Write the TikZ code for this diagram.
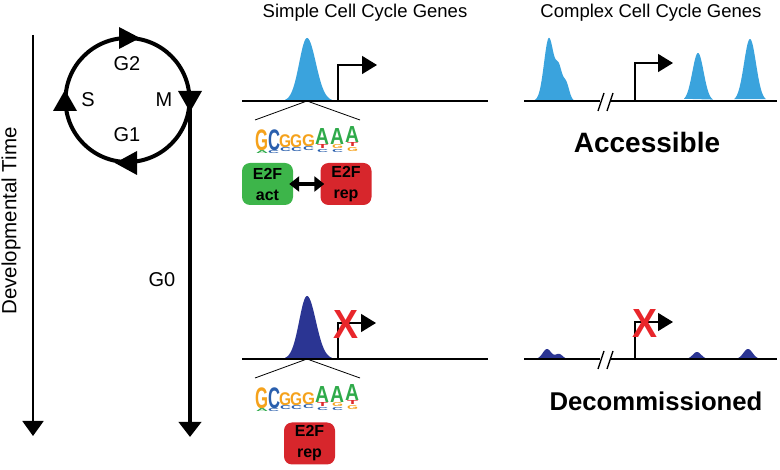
\documentclass[tikz,border=0pt]{standalone}
\usepackage{fontspec}
\setmainfont{Liberation Sans}
\usepackage{graphicx}
\usepackage{xcolor}
\usetikzlibrary{arrows.meta}

\definecolor{peakblue}{HTML}{3AA3DD}
\definecolor{peaknavy}{HTML}{2B3593}
\definecolor{actgreen}{HTML}{3DB54A}
\definecolor{repred}{HTML}{D7262C}
\definecolor{xred}{HTML}{E8262B}
\definecolor{logoG}{HTML}{F5A21C}
\definecolor{logoC}{HTML}{2A5FAD}
\definecolor{logoA}{HTML}{2FAA4A}
\definecolor{logoT}{HTML}{DF2A2C}

% one stretched letter of the motif logo: name, x, bottom, width, height, colour, letter
\newcommand{\logoletter}[7]{\node [anchor=south west, inner sep=0, text=#6] (#1) at (#2,#3) {\resizebox*{#4pt}{#5pt}{\bfseries #7}};}

% the E2F motif logo, moved down by #2
\newcommand{\motiflogo}[2]{%
\begin{scope}[shift={(0,#2)}]
	\logoletter{#1g1}{255}{151}{13}{21}{logoG}{G}
	\logoletter{#1c1}{268}{151}{12}{21}{logoC}{C}
	\logoletter{#1g2}{279}{148}{12}{13}{logoG}{G}
	\logoletter{#1g3}{290}{148}{12}{13}{logoG}{G}
	\logoletter{#1g4}{302}{147}{13}{12}{logoG}{G}
	\logoletter{#1a1}{315}{145}{14}{16}{logoA}{A}
	\logoletter{#1a2}{330}{145}{14}{16}{logoA}{A}
	\logoletter{#1a3}{345}{143}{14}{16}{logoA}{A}
	\logoletter{#1s1}{280}{152}{11}{4}{logoC}{C}
	\logoletter{#1s2}{291}{152}{11}{4}{logoC}{C}
	\logoletter{#1s3}{303}{151}{11}{4}{logoC}{C}
	\logoletter{#1s4}{317}{149}{11}{4}{logoT}{T}
	\logoletter{#1s5}{317}{153}{11}{3}{logoC}{C}
	\logoletter{#1s6}{332}{149}{11}{4}{logoG}{G}
	\logoletter{#1s7}{332}{153}{11}{3}{logoC}{C}
	\logoletter{#1s8}{347}{147}{11}{4}{logoT}{T}
	\logoletter{#1s9}{347}{152}{11}{4}{logoG}{G}
	\logoletter{#1s10}{256}{154}{12}{3}{logoA}{A}
	\logoletter{#1s11}{268}{154}{11}{3}{logoC}{C}
\end{scope}}

\begin{document}
\begin{tikzpicture}[x=1pt, y=-1pt,
	title/.style={inner sep=0, font=\fontsize{18.5}{22}\selectfont},
	phase/.style={inner sep=0, font=\fontsize{20}{24}\selectfont},
	dnaline/.style={line width=1.8pt},
	breakmark/.style={line width=1.4pt},
	promoter/.style={line width=1.5pt, -{Triangle[length=15pt,width=18pt]}},
	motifline/.style={line width=0.8pt},
	e2fbox/.style={rounded corners=8pt, minimum width=51pt, minimum height=42pt, inner sep=0, align=center, font=\fontsize{16}{21}\selectfont\bfseries},
	bothways/.style={line width=3.5pt, shorten <=-4pt, shorten >=-4pt, {Triangle[length=10pt,width=15pt]}-{Triangle[length=10pt,width=15pt]}},
	nomark/.style={inner sep=0, text=xred}]
	\useasboundingbox (0,0) rectangle (780,470);

	% time axis
	\coordinate (timetop) at (33,35);
	\coordinate (timeend) at (33,436);
	\draw [line width=2pt, -{Triangle[length=15pt,width=21pt]}] (timetop) -- (timeend);
	\node [inner sep=0, rotate=90, font=\fontsize{20.5}{24}\selectfont] (devtime) at (11,221) {Developmental Time};

	% cell cycle
	\coordinate (cyc) at (127.5,100);
	\draw [line width=4pt] (cyc) circle (62);
	\fill (119,27) -- (140,38) -- (119,49) -- cycle;
	\fill (178,91) -- (202,91) -- (190,112) -- cycle;
	\fill (137,151) -- (137,175) -- (115,163) -- cycle;
	\fill (53,111) -- (77,111) -- (65,90) -- cycle;
	\node [phase] (g2) at (127,64) {G2};
	\node [phase] (s) at (88,100) {S};
	\node [phase] (m) at (164,100) {M};
	\node [phase] (g1) at (127,135) {G1};
	\coordinate (mexit) at (190,100);
	\coordinate (g0end) at (190,437);
	\draw [line width=4pt, -{Triangle[length=15pt,width=22pt]}] (mexit) -- (g0end);
	\node [phase] (g0) at (162,280) {G0};

	% headings
	\node [title] (simpletitle) at (365,13) {Simple Cell Cycle Genes};
	\node [title] (complextitle) at (651,13) {Complex Cell Cycle Genes};

	% simple gene, accessible
	\fill [peakblue] plot [domain=285:332, samples=80] (\x, {101-63*exp(-((\x-307)/(11+1.5*(\x>307)))^2)}) -- cycle;
	\draw [dnaline] (242,101) -- (488,101);
	\draw [promoter] (338,101) |- (377,65);
	\coordinate (peaktop) at (307,101);
	\draw [motifline] (255,120) -- (peaktop) -- (360,120);
	\motiflogo{up}{0}
	\node [e2fbox, fill=actgreen] (acttop) at (267.5,184) {E2F\\act};
	\node [e2fbox, fill=repred] (reptop) at (346,184) {E2F\\rep};
	\draw [bothways] (acttop) -- (reptop);

	% complex gene, accessible
	\fill [peakblue] plot [domain=528:576, samples=100] (\x, {101-63*exp(-((\x-549)/7)^2)-28*exp(-((\x-559)/4.5)^2)-18*exp(-((\x-566)/4.5)^2)}) -- cycle;
	\fill [peakblue] plot [domain=684:713, samples=60] (\x, {101-48*exp(-((\x-698)/8)^2)}) -- cycle;
	\fill [peakblue] plot [domain=734:766, samples=60] (\x, {101-62*exp(-((\x-750)/8.5)^2)}) -- cycle;
	\draw [dnaline] (524,101) -- (600,101);
	\draw [dnaline] (611,101) -- (777,101);
	\draw [breakmark] (598,111) -- (604,93);
	\draw [breakmark] (607,111) -- (613,93);
	\draw [promoter] (635,101) |- (673,63);
	\node [inner sep=0, font=\fontsize{28}{32}\selectfont\bfseries] (accessible) at (647,142) {Accessible};

	% simple gene, decommissioned
	\fill [peaknavy] plot [domain=285:332, samples=80] (\x, {359-63*exp(-((\x-307)/(11+1.5*(\x>307)))^2)}) -- cycle;
	\draw [dnaline] (242,359) -- (488,359);
	\draw [promoter] (338,359) |- (376,323);
	\node [nomark] (xsimple) at (346,324) {\resizebox{25pt}{28pt}{\bfseries X}};
	\coordinate (peakbot) at (307,359);
	\draw [motifline] (255,378) -- (peakbot) -- (360,378);
	\motiflogo{down}{258}
	\node [e2fbox, fill=repred] (repbot) at (309.5,443.5) {E2F\\rep};

	% complex gene, decommissioned
	\fill [peaknavy] plot [domain=535:571, samples=60] (\x, {359-10*exp(-((\x-547)/6)^2)-5*exp(-((\x-559)/5)^2)}) -- cycle;
	\fill [peaknavy] plot [domain=686:709, samples=40] (\x, {359-7*exp(-((\x-697)/6)^2)}) -- cycle;
	\fill [peaknavy] plot [domain=736:761, samples=40] (\x, {359-10*exp(-((\x-748)/6.5)^2)}) -- cycle;
	\draw [dnaline] (524,359) -- (600,359);
	\draw [dnaline] (611,359) -- (777,359);
	\draw [breakmark] (598,369) -- (604,351);
	\draw [breakmark] (607,369) -- (613,351);
	\draw [promoter] (635,359) |- (673,322);
	\node [nomark] (xcomplex) at (645,323) {\resizebox{25pt}{28pt}{\bfseries X}};
	\node [inner sep=0, font=\fontsize{25.7}{30}\selectfont\bfseries] (decommissioned) at (656,401) {Decommissioned};
\end{tikzpicture}
\end{document}
